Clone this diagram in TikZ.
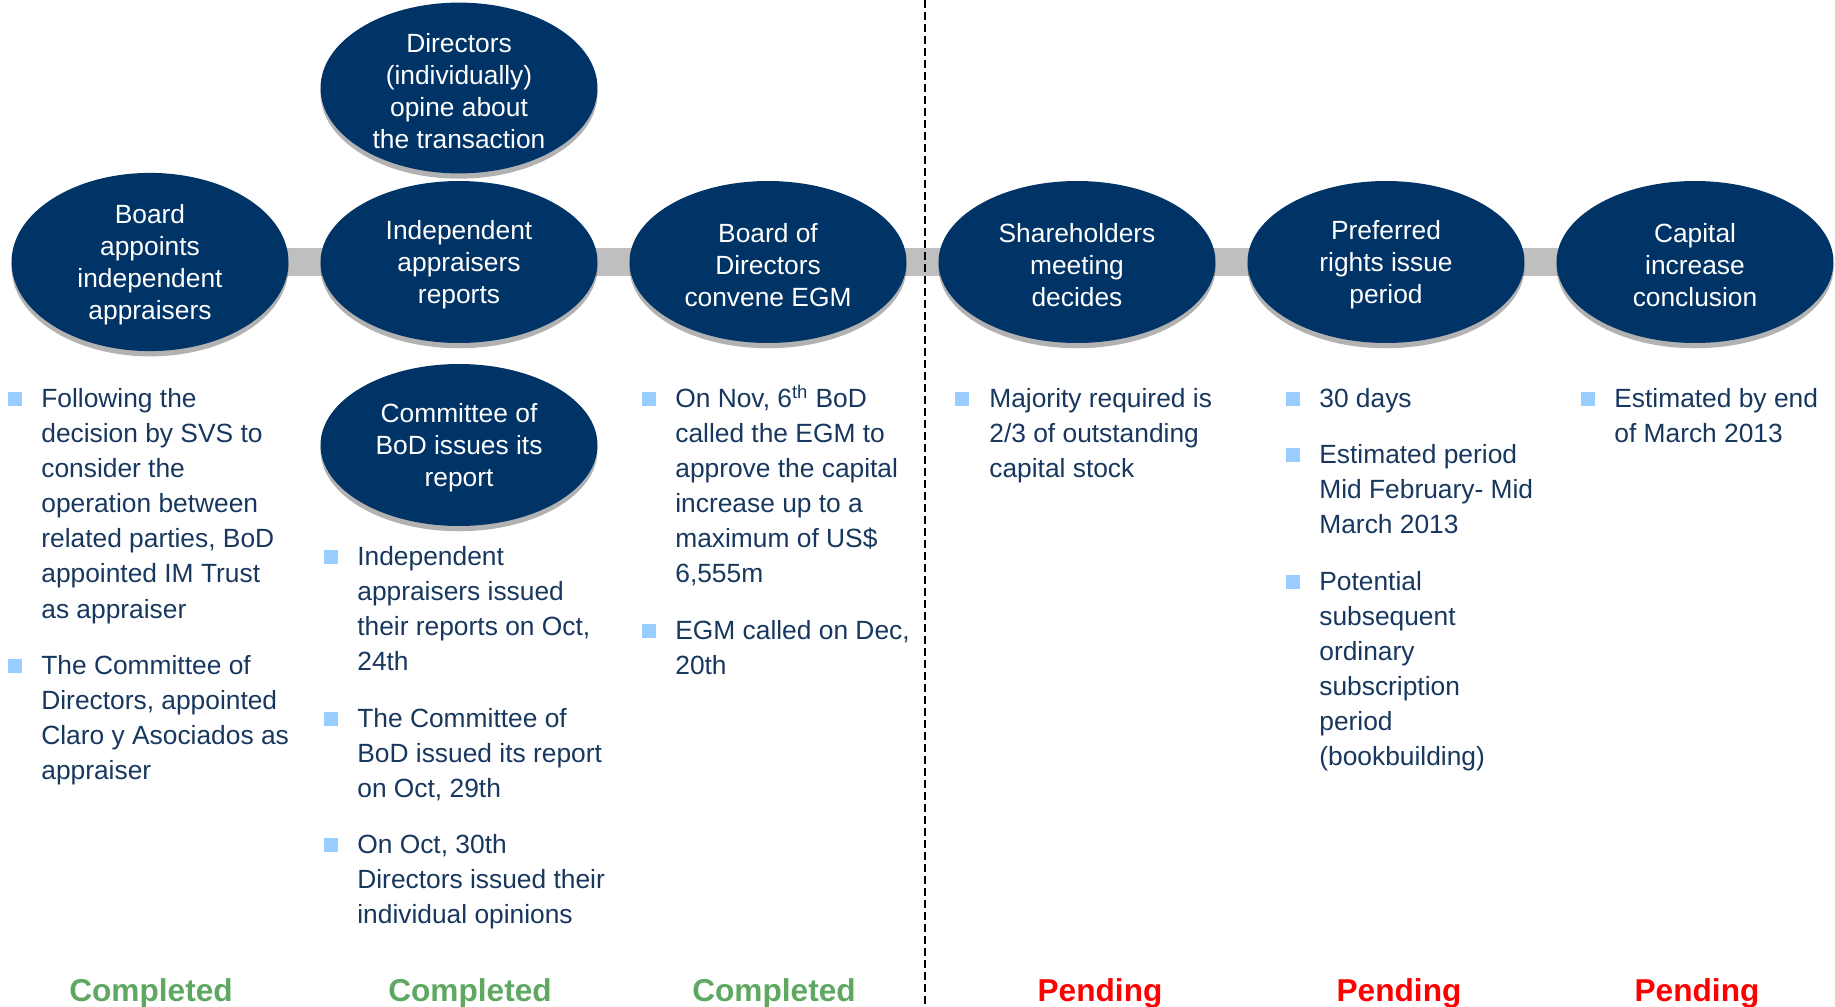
\documentclass[tikz,border=0pt]{standalone}
\usepackage{fontspec}
\setmainfont{Liberation Sans}
\usepackage{xcolor}
\usetikzlibrary{shapes.geometric, shadows, backgrounds, positioning}

\definecolor{navy}{RGB}{0,51,102}
\definecolor{textnavy}{RGB}{23,55,94}
\definecolor{bulletblue}{RGB}{153,204,255}
\definecolor{donegreen}{RGB}{95,168,98}
\definecolor{bargray}{RGB}{191,191,191}

% first-line lift for stage texts
\newcommand{\stagelift}{\rule{0pt}{14pt}}

\begin{document}
\begin{tikzpicture}[
    x=0.02cm, y=-0.02cm,
    stage/.style={ellipse, fill=navy, minimum width=5.54cm, minimum height=3.24cm, inner sep=0pt, align=center, text=white, font=\fontsize{15}{18.2}\selectfont, drop shadow={shadow xshift=0pt, shadow yshift=-3pt, opacity=0.3, fill=black}},
    sq/.style={rectangle, fill=bulletblue, minimum size=0.28cm, inner sep=0pt},
    itemtext/.style={anchor=north west, inner sep=0pt, align=left, text=textnavy, font=\fontsize{15}{20}\selectfont},
    done/.style={anchor=base, inner sep=0pt, text=donegreen, font=\fontsize{18}{21}\selectfont\bfseries},
    pending/.style={anchor=base, inner sep=0pt, text=red, font=\fontsize{18}{21}\selectfont\bfseries},
    bar/.style={line width=0.56cm, draw=bargray},
    divider/.style={dash pattern=on 0.16cm off 0.08cm, line width=0.04cm}
]
    \useasboundingbox (0,0) rectangle (1835,1007);

    % --- Stages ---
    \node[stage] (appoint) at (150, 262) {\stagelift Board\\appoints\\independent\\appraisers};
    \node[stage] (reports) at (459, 262) {\stagelift Independent\\appraisers\\reports};
    \node[stage] (convene) at (768, 262) {\stagelift Board of\\Directors\\convene EGM};
    \node[stage] (meeting) at (1077, 262) {\stagelift Shareholders\\meeting\\decides};
    \node[stage] (rights) at (1386, 262) {\stagelift Preferred\\rights issue\\period};
    \node[stage] (conclusion) at (1695, 262) {\stagelift Capital\\increase\\conclusion};

    \node[stage] (opine) at (459, 88) {\stagelift Directors\\(individually)\\opine about\\the transaction};
    \node[stage] (committee) at (459, 445) {\stagelift Committee of\\BoD issues its\\report};

    % timeline bar behind the stages
    \begin{scope}[on background layer]
        \draw[bar] (appoint.center) -- (conclusion.center);
    \end{scope}

    % --- Completed / pending split ---
    \coordinate (splittop) at (925, 0);
    \coordinate (splitbot) at (925, 1007);
    \draw[divider] (splittop) -- (splitbot);

    % --- Column 1 ---
    \node[sq] (sq1a) at (15, 399) {};
    \node[itemtext] (it1a) at (41, 382.3) {\strut Following the\\decision by SVS to\\consider the\\operation between\\related parties, BoD\\appointed IM Trust\\as appraiser};
    \node[sq] (sq1b) at (15, 666) {};
    \node[itemtext] (it1b) at (41, 649.3) {\strut The Committee of\\Directors, appointed\\Claro y Asociados as\\appraiser};

    % --- Column 2 ---
    \node[sq] (sq2a) at (331, 557) {};
    \node[itemtext] (it2a) at (357, 540.3) {\strut Independent\\appraisers issued\\their reports on Oct,\\24th};
    \node[sq] (sq2b) at (331, 719) {};
    \node[itemtext] (it2b) at (357, 702.3) {\strut The Committee of\\BoD issued its report\\on Oct, 29th};
    \node[sq] (sq2c) at (331, 845) {};
    \node[itemtext] (it2c) at (357, 828.3) {\strut On Oct, 30th\\Directors issued their\\individual opinions};

    % --- Column 3 ---
    \node[sq] (sq3a) at (649, 399) {};
    \node[itemtext] (it3a) at (675, 382.3) {\strut On Nov, 6\textsuperscript{th} BoD\\called the EGM to\\approve the capital\\increase up to a\\maximum of US\$\\6,555m};
    \node[sq] (sq3b) at (649, 631) {};
    \node[itemtext] (it3b) at (675, 614.3) {\strut EGM called on Dec,\\20th};

    % --- Column 4 ---
    \node[sq] (sq4a) at (962, 399) {};
    \node[itemtext] (it4a) at (989, 382.3) {\strut Majority required is\\2/3 of outstanding\\capital stock};

    % --- Column 5 ---
    \node[sq] (sq5a) at (1293, 399) {};
    \node[itemtext] (it5a) at (1319, 382.3) {\strut 30 days};
    \node[sq] (sq5b) at (1293, 455) {};
    \node[itemtext] (it5b) at (1319, 438.3) {\strut Estimated period\\Mid February- Mid\\March 2013};
    \node[sq] (sq5c) at (1293, 582) {};
    \node[itemtext] (it5c) at (1319, 565.3) {\strut Potential\\subsequent\\ordinary\\subscription\\period\\(bookbuilding)};

    % --- Column 6 ---
    \node[sq] (sq6a) at (1588, 399) {};
    \node[itemtext] (it6a) at (1614, 382.3) {\strut Estimated by end\\of March 2013};

    % --- Status ---
    \node[done] (st1) at (151, 1001) {Completed};
    \node[done] (st2) at (470, 1001) {Completed};
    \node[done] (st3) at (774, 1001) {Completed};
    \node[pending] (st4) at (1100, 1001) {Pending};
    \node[pending] (st5) at (1399, 1001) {Pending};
    \node[pending] (st6) at (1697, 1001) {Pending};

\end{tikzpicture}
\end{document}
